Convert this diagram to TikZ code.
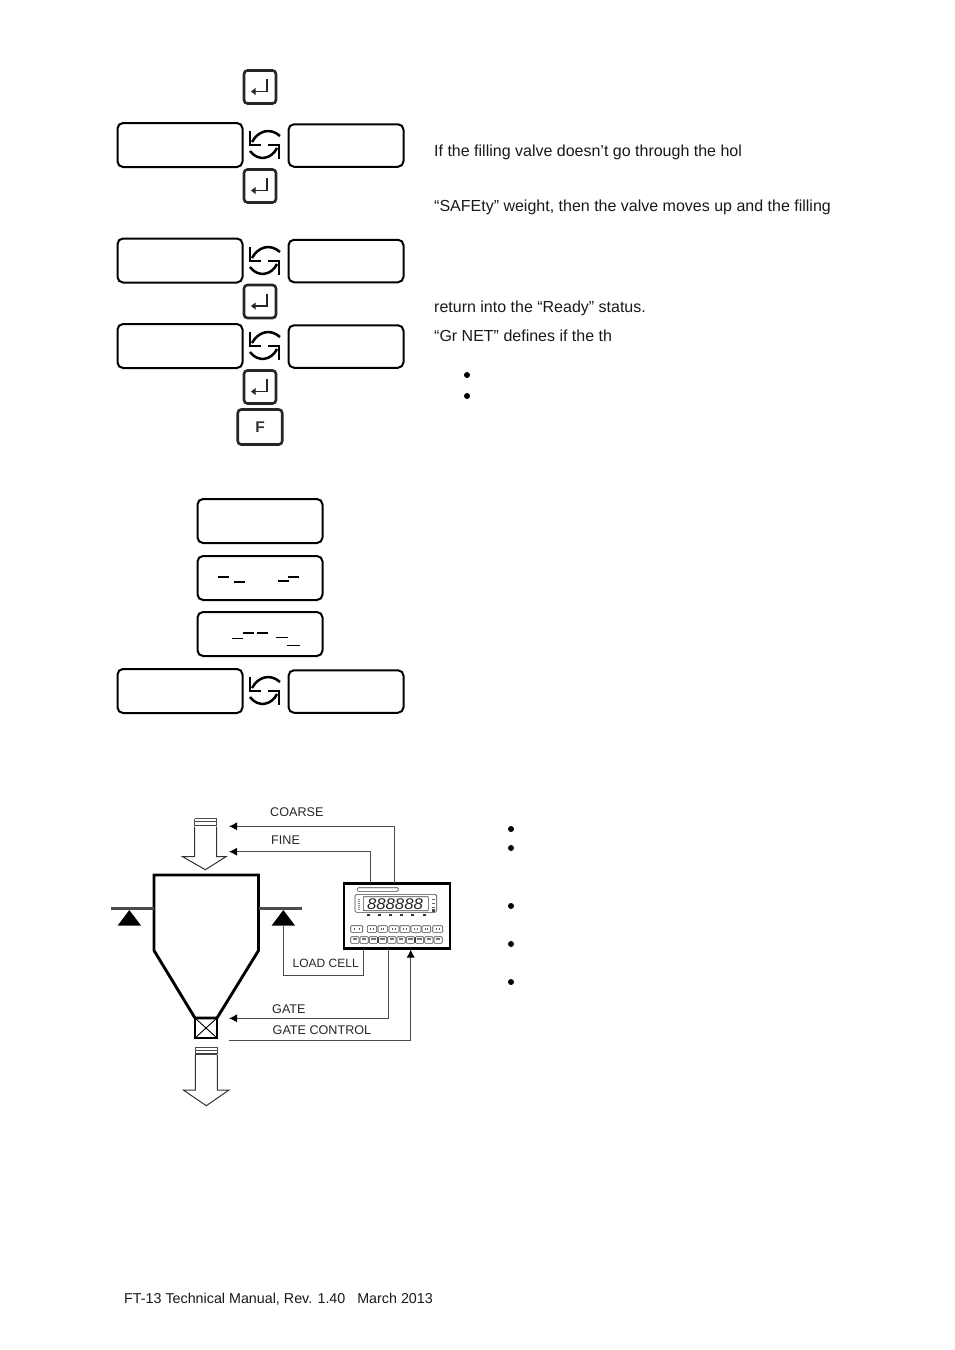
\documentclass[tikz,border=0pt]{standalone}
\usepackage{fontspec}
\setmainfont{Liberation Sans}
\usetikzlibrary{arrows.meta}
\tikzset{
  disp/.style={draw=black,line width=2pt,rounded corners=5.5pt,inner sep=0pt,outer sep=0pt,fill=white},
  wide/.style={disp,minimum width=125pt,minimum height=44pt},
  narrow/.style={disp,minimum width=115pt,minimum height=42.5pt},
  keybox/.style={draw=black!85,line width=2.6pt,rounded corners=3.5pt,inner sep=0pt,outer sep=0pt,minimum width=32pt,minimum height=33pt,fill=white},
  fkey/.style={keybox,minimum width=44.5pt,minimum height=35pt,font=\fontsize{15.5}{15.5}\selectfont\bfseries,text=black!80},
  body/.style={anchor=base west,inner sep=0pt,font=\fontsize{16}{18}\selectfont,text=black!90},
  lab/.style={anchor=base west,inner sep=0pt,font=\fontsize{12.6}{14}\selectfont,text=black!85},
  dot/.style={circle,fill=black,inner sep=0pt,minimum size=6pt},
  conn/.style={draw=black!70,line width=.9pt},
  arr/.style={conn,-{Latex[length=8pt,width=8pt,black]}},
  wall/.style={draw=black,line width=2.9pt,line join=miter},
  beam/.style={draw=black!70,line width=3pt},
  pivot/.style={fill=black},
  flow/.style={draw=black!80,line width=1pt,fill=white,line join=miter},
  dashmark/.style={draw=black,line width=1.5pt},
  ctrlbox/.style={draw=black,line width=2.4pt,inner sep=0pt,outer sep=0pt,minimum width=106pt,minimum height=65pt,fill=white},
  tiny/.style={draw=black!75,line width=.6pt,rounded corners=.8pt,fill=white},
  cycleicon/.pic={
    \draw[line width=2.9pt,black,line join=miter] (-14,-14.5) -- (-14,0) -- (-3,0);
    \draw[line width=2.5pt,black] (-12,-3) .. controls (-6,-14) and (6,-18) .. (16,-9);
    \draw[line width=2.9pt,black,line join=miter] (15,13.5) -- (15,0) -- (4,0);
    \draw[line width=2.5pt,black] (13,3) .. controls (8,14) and (-6,17) .. (-14,6);
  },
  enterglyph/.pic={
    \draw[line width=1.8pt,black!85] (6.7,-8) -- (6.7,4.5) -- (-5,4.5);
    \fill[black!85] (-9,4.5) -- (-4.5,1) -- (-4.5,8) -- cycle;
  },
}
\begin{document}
\begin{tikzpicture}[x=1pt,y=-1pt]
\useasboundingbox (0,0) rectangle (954,1350);
\fill[white] (0,0) rectangle (954,1350);
% keys
\node[keybox] (k1) at (260,87) {};   \pic at (k1.center) {enterglyph};
\node[keybox] (k2) at (260,186) {};  \pic at (k2.center) {enterglyph};
\node[keybox] (k3) at (260,301.5) {};\pic at (k3.center) {enterglyph};
\node[keybox] (k4) at (260,387) {};  \pic at (k4.center) {enterglyph};
\node[fkey] (kf) at (260,427) {F};
% display rows
\node[wide] (a1) at (180,145) {};   \node[narrow] (b1) at (346,145.5) {}; \pic at (264,145) {cycleicon};
\node[wide] (a2) at (180,260.5) {}; \node[narrow] (b2) at (346,261) {};   \pic at (264,261) {cycleicon};
\node[wide] (a3) at (180,346) {};   \node[narrow] (b3) at (346,346.5) {}; \pic at (264,346) {cycleicon};
\node[wide] (c1) at (260,521) {};
\node[wide] (c2) at (260,578) {};
\node[wide] (c3) at (260,634) {};
\node[wide] (a4) at (180,691) {};   \node[narrow] (b4) at (346,691.5) {}; \pic at (264,691) {cycleicon};
% dashes
\draw[dashmark] (218,577)--(229,577) (234,582)--(245,582) (278,581)--(289,581) (288,577)--(299,577);
\draw[dashmark,line width=.9pt] (232,638)--(243,638) (276,637)--(288,637) (287,645)--(300,645);
\draw[dashmark] (243,633)--(254,633) (257,633)--(268,633);
% right text
\node[body] (t1) at (434,156) {If the filling valve doesn’t go through the hol};
\node[body] (t2) at (434,211) {“SAFEty” weight, then the valve moves up and the filling};
\node[body] (t3) at (434,312) {return into the “Ready” status.};
\node[body] (t4) at (434,341) {“Gr NET” defines if the th};
\node[dot] (d1) at (467,375) {};
\node[dot] (d2) at (467,396) {};
\node[dot] (d3) at (511,829) {};
\node[dot] (d4) at (511,848) {};
\node[dot] (d5) at (511,906) {};
\node[dot] (d6) at (511,944) {};
\node[dot] (d7) at (511,982) {};
% hopper
\draw[wall] (154,950.5) -- (154,875) -- (258.5,875) -- (258.5,950.5) -- (217,1018) -- (195,1018) -- cycle;
\draw[wall,line width=2.2pt] (195,1018) rectangle (217,1038);
\draw[draw=black,line width=.9pt] (195,1018) -- (217,1038) (217,1018) -- (195,1038);
\draw[beam] (111,908.7) -- (154,908.7);
\draw[beam] (258.5,908.7) -- (301.7,908.7);
\coordinate (pl) at (129.3,910);
\coordinate (pr) at (283.3,910);
\fill[pivot] (pl) -- (117.7,925.5) -- (141,925.5) -- cycle;
\fill[pivot] (pr) -- (271.7,925.5) -- (295,925.5) -- cycle;
% flow arrows
\draw[flow] (194.7,826.7) -- (194.7,856.7) -- (182.7,856.7) -- (205.3,869.7) -- (226,856.7) -- (216.7,856.7) -- (216.7,826.7);
\draw[black!70,line width=1pt] (194.7,818.5) -- (216.7,818.5) (194.7,821) -- (216.7,821);
\draw[black!75,line width=1.8pt] (194.7,825.5) -- (216.7,825.5);
\draw[black!70,line width=.7pt] (194.7,818.5) -- (194.7,826) (216.7,818.5) -- (216.7,826);
\draw[flow] (195.3,1054.5) -- (195.3,1090) -- (183.3,1090) -- (206.3,1105.7) -- (229,1090) -- (217.3,1090) -- (217.3,1054.5);
\draw[black!70,line width=1pt] (195.3,1047) -- (217.3,1047) (195.3,1050) -- (217.3,1050);
\draw[black!75,line width=1.6pt] (195.3,1054) -- (217.3,1054);
\draw[black!70,line width=.7pt] (195.3,1047) -- (195.3,1054) (217.3,1047) -- (217.3,1054);
% controller
\node[ctrlbox] (ctrl) at (397.2,916) {};
\coordinate (pCoarse) at (394.7,882.7); \coordinate (eCoarse) at (229,826.3);
\coordinate (pFine) at (370.7,882.7);   \coordinate (eFine) at (229,851.7);
\coordinate (pLoad) at (363.7,949);     \coordinate (eLoad) at (283.3,925.5);
\coordinate (pGate) at (388.7,949);     \coordinate (eGate) at (229,1018.3);
\coordinate (pCtl) at (410.7,949.5);    \coordinate (sCtl) at (229,1040);
\draw[arr] (pCoarse) |- (eCoarse);
\draw[arr] (pFine) |- (eFine);
\draw[conn] (pLoad) |- (283.3,975.7) -- (eLoad);
\draw[arr] (pGate) |- (eGate);
\draw[arr] (sCtl) -| (pCtl);
% labels
\node[lab] (lc) at (270,816.5) {COARSE};
\node[lab] (lf) at (271,844) {FINE};
\node[lab,font=\fontsize{12}{14}\selectfont] (ll) at (292.5,967) {LOAD CELL};
\node[lab] (lg) at (272,1013) {GATE};
\node[lab] (lgc) at (272.5,1034) {GATE CONTROL};
% controller front panel
\draw[tiny,rounded corners=1pt] (357.3,887.7) rectangle (398.3,891.3);
\draw[tiny,rounded corners=1.5pt] (355,894.3) rectangle (436.7,912.3);
\draw[tiny,rounded corners=.5pt] (363.3,896.7) rectangle (428.3,910.7);
\node[inner sep=0pt,font=\fontsize{15.5}{15}\selectfont\itshape,text=black!85] (digits) at (395,904) {\scalebox{1.08}[1.0]{888888}};
\foreach \x in {368.3,379.3,390.3,401.7,412.7,424} \fill[black!80] (\x-1.5,913.5) rectangle (\x+1.5,915.5);
\foreach \y in {899,901,903,905,907,909} \fill[black!50] (357.5,\y) rectangle (359.5,\y+.8);
\foreach \y in {899,903,907} \fill[black!60] (431.5,\y) rectangle (434.5,\y+1.2);
\fill[black!70] (431.5,909) rectangle (434.5,911.5);
\foreach \a/\b in {350.7/362.7,367.3/376.7,378/387.3,389/399,400/410,411/421,422/430.7,432.7/442.7}{
  \draw[tiny] (\a,925.7) rectangle (\b,932.3);
  \fill[black!65] (\a+3,927.5) rectangle (\b-3,930.3);
  \fill[white] (\a+4,928.2) rectangle (\b-4,929.6);
}
\foreach \i in {0,...,9}{
  \pgfmathsetmacro{\xa}{350.7+\i*9.25}
  \draw[tiny] (\xa,936.7) rectangle (\xa+8.3,943.3);
  \fill[black!55] (\xa+2,938.3) rectangle (\xa+6.3,939.6);
}
% footer
\node[body,font=\fontsize{14.3}{16}\selectfont] (foot) at (124,1303) {FT-13 Technical Manual, Rev. 1.40 \ \ March 2013};
\end{tikzpicture}
\end{document}
